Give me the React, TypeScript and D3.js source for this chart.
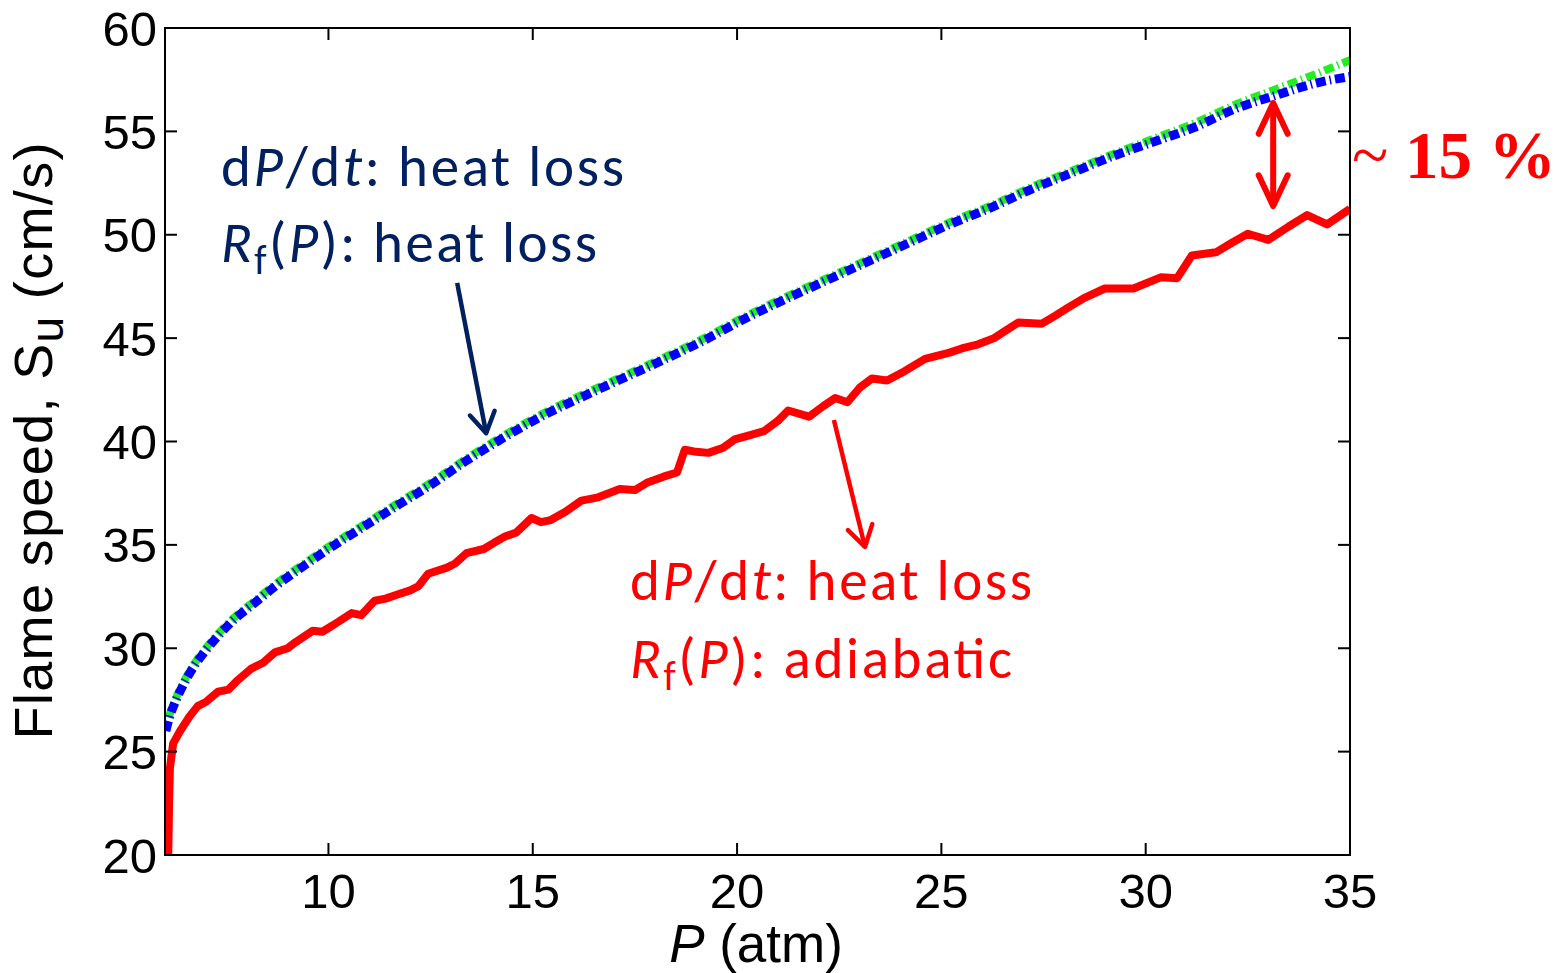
import React, { useEffect } from "react";
import * as d3 from "d3";

// ---- data ----
const pBG = [6.02, 6.1, 6.25, 6.44, 6.7, 7.0, 7.3, 7.7, 8.2, 8.7, 9.3, 10.0, 10.8, 11.6, 12.5, 13.4, 14.3, 15.2, 16.2, 17.2, 18.2, 19.2, 20.2, 21.2, 22.2, 23.2, 24.2, 25.2, 26.2, 27.2, 28.2, 29.2, 30.2, 31.2, 32.2, 33.2, 34.2, 35.0];
const sBlue = [26.0, 26.6, 27.4, 28.2, 29.1, 29.9, 30.6, 31.4, 32.2, 33.0, 33.85, 34.8, 35.8, 36.8, 37.9, 39.1, 40.2, 41.2, 42.15, 43.05, 43.95, 44.9, 45.95, 46.9, 47.8, 48.7, 49.6, 50.5, 51.3, 52.2, 53.0, 53.8, 54.5, 55.2, 56.1, 56.75, 57.35, 57.65];
const sGreen = [26.1, 26.7, 27.5, 28.3, 29.2, 30.0, 30.7, 31.5, 32.3, 33.1, 33.95, 34.9, 35.9, 36.9, 38.0, 39.2, 40.3, 41.3, 42.25, 43.15, 44.05, 45.0, 46.05, 47.0, 47.9, 48.8, 49.7, 50.6, 51.4, 52.3, 53.1, 53.9, 54.65, 55.4, 56.3, 57.05, 57.8, 58.45];

const pRed = [6.08, 6.1, 6.12, 6.2, 6.37, 6.6, 6.8, 7.0, 7.3, 7.55, 7.75, 8.1, 8.4, 8.69, 9.0, 9.2, 9.62, 9.85, 10.1, 10.57, 10.8, 11.13, 11.4, 11.69, 12.0, 12.2, 12.44, 12.9, 13.1, 13.38, 13.8, 14.05, 14.32, 14.6, 14.97, 15.2, 15.44, 15.8, 16.19, 16.6, 17.13, 17.5, 17.79, 18.2, 18.53, 18.72, 19.0, 19.3, 19.66, 19.94, 20.3, 20.66, 21.0, 21.25, 21.76, 22.1, 22.4, 22.7, 23.0, 23.3, 23.67, 24.1, 24.6, 25.2, 25.5, 25.9, 26.29, 26.6, 26.88, 27.46, 27.8, 28.12, 28.5, 29.0, 29.7, 30.38, 30.77, 31.13, 31.72, 32.1, 32.5, 33.0, 33.5, 33.95, 34.44, 35.0];
const sRed = [20.0, 22.5, 24.2, 25.4, 26.0, 26.7, 27.2, 27.4, 27.9, 28.0, 28.4, 29.0, 29.3, 29.8, 30.0, 30.3, 30.85, 30.8, 31.1, 31.7, 31.6, 32.3, 32.4, 32.6, 32.8, 33.0, 33.6, 33.9, 34.1, 34.6, 34.8, 35.1, 35.4, 35.6, 36.3, 36.1, 36.2, 36.6, 37.14, 37.3, 37.7, 37.65, 38.0, 38.3, 38.5, 39.6, 39.5, 39.45, 39.7, 40.1, 40.3, 40.5, 41.0, 41.5, 41.2, 41.7, 42.1, 41.9, 42.6, 43.05, 42.95, 43.4, 44.0, 44.3, 44.5, 44.7, 45.0, 45.4, 45.75, 45.7, 46.1, 46.5, 46.95, 47.4, 47.4, 47.95, 47.9, 49.0, 49.15, 49.6, 50.05, 49.75, 50.4, 50.95, 50.5, 51.25];

const xTicks = [10, 15, 20, 25, 30, 35];
const yTicks = [20, 25, 30, 35, 40, 45, 50, 55, 60];

const W = 1561, H = 973;
const L = 165, R = 1350, T = 28, B = 855;

const x = d3.scaleLinear().domain([6, 35]).range([L, R]);
const y = d3.scaleLinear().domain([20, 60]).range([B, T]);

const NAVY = "#002060";
const RED = "#ff0000";

function arrowHead(x1: number, y1: number, x2: number, y2: number, len: number, ang: number) {
  const a = Math.atan2(y2 - y1, x2 - x1);
  const w1x = x2 - len * Math.cos(a - ang), w1y = y2 - len * Math.sin(a - ang);
  const w2x = x2 - len * Math.cos(a + ang), w2y = y2 - len * Math.sin(a + ang);
  return `M${w1x},${w1y}L${x2},${y2}L${w2x},${w2y}`;
}

export default function App() {
  useEffect(() => {
    document.body.style.margin = "0";
    document.body.style.overflow = "hidden";
  }, []);

  const lineBG = (vals: number[]) =>
    d3.line<number>().x((_, i) => x(pBG[i])).y((v) => y(v)).curve(d3.curveMonotoneX)(vals) as string;
  const redPath = d3.line<number>().x((_, i) => x(pRed[i])).y((v) => y(v))(sRed) as string;

  // annotation arrows (data coordinates)
  const nav = { x1: x(13.15), y1: y(47.67), x2: x(13.86), y2: y(40.4) };
  const red = { x1: x(22.37), y1: y(41.04), x2: x(23.13), y2: y(34.9) };
  const dbl = { x: x(33.12), y1: y(56.37), y2: y(51.39) };

  const tickFont = "Arial, 'Liberation Sans', sans-serif";
  const annFont = "Carlito, Calibri, Lato, sans-serif";

  return (
    <svg width={W} height={H} style={{ position: "absolute", left: 0, top: 0, display: "block", background: "#fff" }}>
      <defs>
        <clipPath id="plotclip">
          <rect x={L} y={T} width={R - L} height={B - T} />
        </clipPath>
      </defs>

      {/* series */}
      <g clipPath="url(#plotclip)">
        <path d={redPath} fill="none" stroke={RED} strokeWidth={8} strokeLinejoin="round" />
        <path d={lineBG(sGreen)} fill="none" stroke="#22ee22" strokeWidth={8} strokeDasharray="10 4 1.5 4" strokeDashoffset={8} />
        <path d={lineBG(sBlue)} fill="none" stroke="#0000ff" strokeWidth={9} strokeDasharray="10 4 1.5 4" />
      </g>

      {/* axes box */}
      <rect x={L} y={T} width={R - L} height={B - T} fill="none" stroke="#000" strokeWidth={2} />
      {xTicks.map((t) => (
        <g key={"x" + t}>
          <line x1={x(t)} x2={x(t)} y1={B} y2={B - 12} stroke="#000" strokeWidth={2} />
          <line x1={x(t)} x2={x(t)} y1={T} y2={T + 12} stroke="#000" strokeWidth={2} />
          <text x={x(t)} y={908} textAnchor="middle" fontFamily={tickFont} fontSize={49} fill="#000">{t}</text>
        </g>
      ))}
      {yTicks.map((t) => (
        <g key={"y" + t}>
          <line x1={L} x2={L + 12} y1={y(t)} y2={y(t)} stroke="#000" strokeWidth={2} />
          <line x1={R} x2={R - 12} y1={y(t)} y2={y(t)} stroke="#000" strokeWidth={2} />
          <text x={157} y={y(t) + 17.5} textAnchor="end" fontFamily={tickFont} fontSize={49} fill="#000">{t}</text>
        </g>
      ))}

      {/* axis labels */}
      <text x={756} y={962} textAnchor="middle" fontFamily={tickFont} fontSize={53} fill="#000">
        <tspan fontStyle="italic">P</tspan> (atm)
      </text>
      <text transform={`translate(52,${441}) rotate(-90)`} textAnchor="middle" fontFamily={tickFont} fontSize={54} fill="#000"
        textLength={597} lengthAdjust="spacing">
        Flame speed, S<tspan fontSize={46} dy={11}>u</tspan><tspan dy={-11}> (cm/s)</tspan>
      </text>

      {/* navy annotation */}
      <text x={221} y={186} fontFamily={annFont} fontSize={57} fill={NAVY} textLength={403} lengthAdjust="spacing">
        d<tspan fontStyle="italic">P</tspan>/d<tspan fontStyle="italic">t</tspan>: heat loss
      </text>
      <text x={221} y={262} fontFamily={annFont} fontSize={57} fill={NAVY} textLength={376} lengthAdjust="spacing">
        <tspan fontStyle="italic">R</tspan><tspan fontSize={40} dy={12}>f</tspan><tspan dy={-12}>(</tspan><tspan fontStyle="italic">P</tspan>): heat loss
      </text>
      <line x1={nav.x1} y1={nav.y1} x2={nav.x2} y2={nav.y2} stroke={NAVY} strokeWidth={4.5} />
      <path d={arrowHead(nav.x1, nav.y1, nav.x2, nav.y2, 24, 0.55)} fill="none" stroke={NAVY} strokeWidth={4.5} strokeLinecap="round" strokeLinejoin="round" />

      {/* red annotation */}
      <text x={630} y={600} fontFamily={annFont} fontSize={57} fill={RED} textLength={402} lengthAdjust="spacing">
        d<tspan fontStyle="italic">P</tspan>/d<tspan fontStyle="italic">t</tspan>: heat loss
      </text>
      <text x={630} y={678} fontFamily={annFont} fontSize={57} fill={RED} textLength={382} lengthAdjust="spacing">
        <tspan fontStyle="italic">R</tspan><tspan fontSize={40} dy={12}>f</tspan><tspan dy={-12}>(</tspan><tspan fontStyle="italic">P</tspan>): adiabatic
      </text>
      <line x1={red.x1} y1={red.y1} x2={red.x2} y2={red.y2} stroke={RED} strokeWidth={4.5} />
      <path d={arrowHead(red.x1, red.y1, red.x2, red.y2, 24, 0.55)} fill="none" stroke={RED} strokeWidth={4.5} strokeLinecap="round" strokeLinejoin="round" />

      {/* double arrow and ~15 % */}
      <line x1={dbl.x} y1={dbl.y1} x2={dbl.x} y2={dbl.y2} stroke={RED} strokeWidth={6} />
      <path d={arrowHead(dbl.x, dbl.y2, dbl.x, dbl.y1, 34, 0.44)} fill="none" stroke={RED} strokeWidth={6} strokeLinecap="round" strokeLinejoin="round" />
      <path d={arrowHead(dbl.x, dbl.y1, dbl.x, dbl.y2, 34, 0.44)} fill="none" stroke={RED} strokeWidth={6} strokeLinecap="round" strokeLinejoin="round" />
      <text x={1352} y={178} fontFamily="'Times New Roman', 'Liberation Serif', serif" fontSize={67} fontWeight="bold" fill={RED}>
        <tspan fontWeight="normal">~</tspan> 15 %
      </text>
    </svg>
  );
}
